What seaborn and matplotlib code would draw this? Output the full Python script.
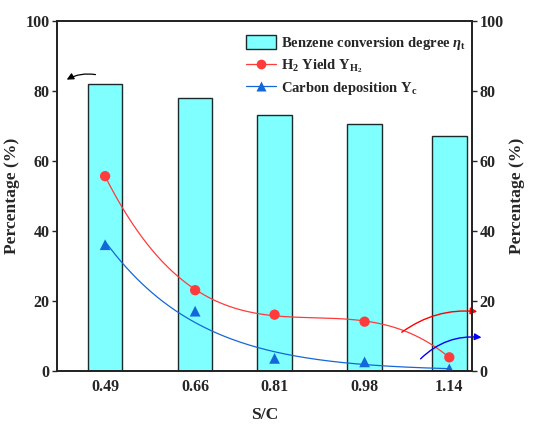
import numpy as np
import matplotlib
matplotlib.use("Agg")
import matplotlib.pyplot as plt
import seaborn as sns
from matplotlib.patches import Patch
from matplotlib.lines import Line2D

sc = [0.49, 0.66, 0.81, 0.98, 1.14]
sc_labels = ["0.49", "0.66", "0.81", "0.98", "1.14"]
benzene = [81.9, 77.9, 73.0, 70.5, 67.0]
h2_yield = [55.6, 23.0, 16.0, 14.0, 3.8]
carbon = [36.0, 17.0, 3.5, 2.5, 0.5]

sns.set_style("ticks")
plt.rcParams['font.family'] = ['Liberation Serif', 'DejaVu Serif']
plt.rcParams['font.weight'] = 'bold'
plt.rcParams['mathtext.fontset'] = 'custom'
plt.rcParams['mathtext.rm'] = 'Liberation Serif:bold'
plt.rcParams['mathtext.it'] = 'Liberation Serif:bold:italic'
plt.rcParams['mathtext.bf'] = 'Liberation Serif:bold'

fig = plt.figure(figsize=(5.42, 4.26), dpi=100)
ax = fig.add_axes([0.106, 0.130, 0.765, 0.821])

bar_color = "#7FFFFF"
red = "#FF3B3B"
blue = "#1467D8"

sns.barplot(x=sc, y=benzene, native_scale=True, width=0.433, color=bar_color,
            saturation=1, edgecolor="#1a2a2a", linewidth=1.0, ax=ax, zorder=1)

xs = np.linspace(sc[0], sc[-1], 200)
pr = np.polyfit(sc, h2_yield, 3)
pb = np.polyfit(sc, np.log(carbon), 2)
yb = np.exp(np.polyval(pb, xs))
ax.plot(xs, np.polyval(pr, xs), color=red, lw=0.9, zorder=3)
ax.plot(xs, yb, color=blue, lw=0.9, zorder=3)
sns.scatterplot(x=sc, y=h2_yield, color=red, marker='o', s=55, edgecolor='none', ax=ax, zorder=4)
sns.scatterplot(x=sc, y=carbon, color=blue, marker='^', s=60, edgecolor='none', ax=ax, zorder=4)

ax.set_xlim(0.4, 1.183)
ax.set_ylim(0, 100)
ax.set_xticks(sc)
ax.set_xticklabels(sc_labels)
ax.set_yticks([0, 20, 40, 60, 80, 100])
ax.tick_params(axis='x', length=0, pad=6, labelsize=11.5)
ax.tick_params(axis='y', length=3.5, width=1, direction='out', labelsize=11.5, pad=2)
ax.set_xlabel("S/C", fontsize=12.6, fontweight='bold', labelpad=9)
ax.set_ylabel("Percentage (%)", fontsize=12.6, fontweight='bold', labelpad=4)
for s in ax.spines.values():
    s.set_linewidth(1.2)
    s.set_color('black')

ax2 = ax.twinx()
ax2.set_ylim(0, 100)
ax2.set_yticks([0, 20, 40, 60, 80, 100])
ax2.tick_params(axis='y', length=3.5, width=1, direction='out', labelsize=11.5, pad=2)
ax2.set_ylabel("Percentage (%)", fontsize=12.6, fontweight='bold', rotation=90, labelpad=4)
for s in ax2.spines.values():
    s.set_linewidth(1.2)

handles = [
    Patch(facecolor=bar_color, edgecolor='#1a2a2a', linewidth=1.0),
    Line2D([], [], color=red, lw=0.9, marker='o', markersize=7, markeredgecolor='none'),
    Line2D([], [], color=blue, lw=0.9, marker='^', markersize=7, markeredgecolor='none'),
]
labels = [
    r"Benzene conversion degree $\mathit{\eta}_{\mathrm{t}}$",
    r"H$_2$ Yield Y$_{\mathrm{H}_2}$",
    r"Carbon deposition Y$_{\mathrm{c}}$",
]
ax.legend(handles, labels, loc='upper left', bbox_to_anchor=(0.44, 0.975),
          frameon=False, fontsize=10.5, handlelength=2.1, handleheight=1.1,
          handletextpad=0.3, labelspacing=0.35, borderaxespad=0)

ax.annotate("", xy=(0.413, 82.8), xytext=(0.477, 84.5),
            arrowprops=dict(arrowstyle='-|>', color='black', lw=0.9,
                            connectionstyle='arc3,rad=0.2', mutation_scale=10))
ax.annotate("", xy=(1.198, 16.8), xytext=(1.046, 10.5), annotation_clip=False,
            arrowprops=dict(arrowstyle='-|>', color='red', lw=1.0,
                            connectionstyle='arc3,rad=-0.2', mutation_scale=10))
ax.annotate("", xy=(1.206, 9.4), xytext=(1.082, 2.8), annotation_clip=False,
            arrowprops=dict(arrowstyle='-|>', color='blue', lw=1.0,
                            connectionstyle='arc3,rad=-0.25', mutation_scale=10))

fig.savefig("out.png", dpi=100)
